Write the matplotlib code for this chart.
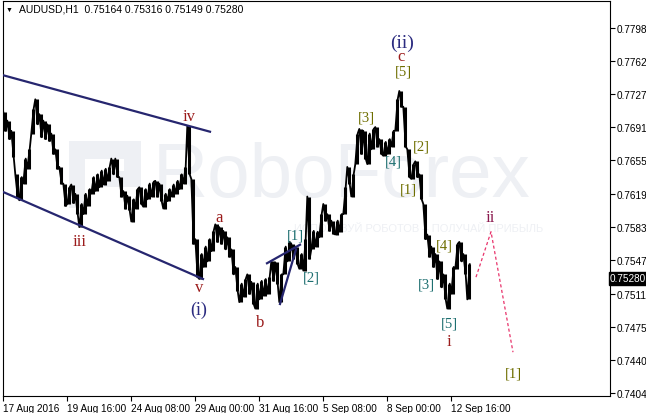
import matplotlib
matplotlib.use("Agg")
import matplotlib.pyplot as plt
import matplotlib.transforms as mtransforms
from matplotlib.patches import Rectangle

# 4-hour groups of the H1 AUDUSD bars (high / low), 17 Aug - 13 Sep 2016
highs = [0.7707, 0.7698, 0.7687, 0.7640, 0.7637, 0.7657, 0.7667, 0.7711, 0.7721, 0.7705,
         0.7698, 0.7694, 0.7684, 0.7667, 0.7648, 0.7630, 0.7626, 0.7629, 0.7619, 0.7608,
         0.7619, 0.7624, 0.7637, 0.7640, 0.7644, 0.7646, 0.7648, 0.7657, 0.7657, 0.7637,
         0.7622, 0.7617, 0.7613, 0.7624, 0.7626, 0.7624, 0.7630, 0.7632, 0.7633, 0.7630,
         0.7619, 0.7624, 0.7629, 0.7633, 0.7640, 0.7648, 0.7692, 0.7635, 0.7570, 0.7554,
         0.7562, 0.7570, 0.7579, 0.7586, 0.7583, 0.7579, 0.7572, 0.7559, 0.7540, 0.7522,
         0.7527, 0.7532, 0.7524, 0.7522, 0.7525, 0.7527, 0.7529, 0.7546, 0.7545, 0.7532,
         0.7562, 0.7567, 0.7565, 0.7562, 0.7554, 0.7570, 0.7616, 0.7579, 0.7578, 0.7597,
         0.7608, 0.7597, 0.7590, 0.7590, 0.7597, 0.7626, 0.7648, 0.7640, 0.7684, 0.7689,
         0.7687, 0.7684, 0.7689, 0.7691, 0.7678, 0.7675, 0.7678, 0.7687, 0.7721, 0.7730,
         0.7713, 0.7667, 0.7651, 0.7654, 0.7640, 0.7608, 0.7575, 0.7562, 0.7554, 0.7546,
         0.7532, 0.7522, 0.7540, 0.7565, 0.7567, 0.7554, 0.7543]
lows = [0.7687, 0.7678, 0.7659, 0.7616, 0.7612, 0.7630, 0.7646, 0.7684, 0.7694, 0.7680,
        0.7678, 0.7676, 0.7662, 0.7646, 0.7630, 0.7606, 0.7608, 0.7609, 0.7597, 0.7583,
        0.7597, 0.7606, 0.7619, 0.7622, 0.7626, 0.7629, 0.7633, 0.7640, 0.7637, 0.7616,
        0.7603, 0.7601, 0.7589, 0.7603, 0.7608, 0.7605, 0.7613, 0.7616, 0.7616, 0.7611,
        0.7603, 0.7611, 0.7616, 0.7619, 0.7624, 0.7630, 0.7640, 0.7565, 0.7529, 0.7527,
        0.7540, 0.7546, 0.7557, 0.7567, 0.7565, 0.7559, 0.7551, 0.7532, 0.7514, 0.7502,
        0.7508, 0.7511, 0.7500, 0.7495, 0.7505, 0.7509, 0.7511, 0.7525, 0.7522, 0.7502,
        0.7532, 0.7546, 0.7549, 0.7543, 0.7538, 0.7536, 0.7549, 0.7559, 0.7562, 0.7572,
        0.7590, 0.7579, 0.7576, 0.7575, 0.7578, 0.7597, 0.7630, 0.7616, 0.7651, 0.7662,
        0.7657, 0.7651, 0.7667, 0.7670, 0.7662, 0.7660, 0.7662, 0.7670, 0.7687, 0.7713,
        0.7670, 0.7637, 0.7635, 0.7637, 0.7613, 0.7570, 0.7551, 0.7540, 0.7527, 0.7518,
        0.7505, 0.7495, 0.7511, 0.7538, 0.7546, 0.7532, 0.7505]
group_hours = 4
last_price = 0.75280
header = "AUDUSD,H1  0.75164 0.75316 0.75149 0.75280"

# price axis (MT4 style, uneven steps)
price_ticks = [0.7798, 0.7762, 0.7727, 0.7691, 0.7655, 0.7619, 0.7583,
               0.7547, 0.7511, 0.7475, 0.7440, 0.7404]
time_ticks = [0, 64, 128, 192, 256, 320, 384, 448]
time_labels = ["17 Aug 2016", "19 Aug 16:00", "24 Aug 08:00", "29 Aug 00:00",
               "31 Aug 16:00", "5 Sep 08:00", "8 Sep 00:00", "12 Sep 16:00"]

# trend lines (bar index, price)
channel_top = [(0, 0.7747), (207, 0.7686)]
channel_bot = [(0, 0.7621), (200, 0.7527)]
wedge_top = [(264, 0.7544), (297, 0.7564)]
wedge_bot = [(277, 0.7500), (293, 0.7559)]
forecast = [(473, 0.7529), (488, 0.7578), (510, 0.7448)]

RED = "#9b1c1c"
NAVY = "#2b2b80"
OLIVE = "#6e6e00"
TEAL = "#1d6f70"
# wave labels: text, bar index, price, colour, size
wave_labels = [
    ("iv", 186, 0.7703, RED, 12), ("iii", 77, 0.7568, RED, 12),
    ("v", 196, 0.7518, RED, 12), ("(i)", 196, 0.7494, NAVY, 13),
    ("a", 216, 0.7594, RED, 12), ("b", 257, 0.7481, RED, 12),
    ("[1]", 292, 0.7574, TEAL, 10.5), ("[2]", 308, 0.7529, TEAL, 10.5),
    ("(ii)", 399, 0.7783, NAVY, 14), ("c", 398, 0.7768, RED, 12),
    ("[5]", 400, 0.7751, OLIVE, 10.5), ("[3]", 363, 0.7702, OLIVE, 10.5),
    ("[4]", 390, 0.7654, TEAL, 10.5), ("[2]", 418, 0.7671, OLIVE, 10.5),
    ("[1]", 405, 0.7624, OLIVE, 10.5), ("[4]", 441, 0.7564, OLIVE, 10.5),
    ("[3]", 423, 0.7522, TEAL, 10.5), ("[5]", 446, 0.7479, TEAL, 10.5),
    ("i", 446, 0.7460, RED, 12), ("ii", 487, 0.7594, "#8b1a4f", 12),
    ("[1]", 510, 0.7426, OLIVE, 10.5),
]

WM = "#eef0f4"

plt.rcParams['font.family'] = ['Liberation Sans', 'DejaVu Sans']

fig = plt.figure(figsize=(6.46, 4.14), dpi=100)
ax = fig.add_axes([3 / 646, 17 / 414, 607 / 646, 395 / 414])
ax.set_xlim(0, 607)
ax.set_ylim(0.74007, 0.78271)

# watermark
ax.text(0.247, 0.555, "RoboForex", transform=ax.transAxes, fontsize=55,
        color=WM, ha="left", va="center", zorder=0)
ax.add_patch(Rectangle((0.108, 0.475), 0.027, 0.17, transform=ax.transAxes,
                       fc=WM, ec="none", zorder=0))
ax.add_patch(Rectangle((0.108, 0.60), 0.12, 0.045, transform=ax.transAxes,
                       fc=WM, ec="none", zorder=0))
ax.add_patch(Rectangle((0.20, 0.53), 0.028, 0.115, transform=ax.transAxes,
                       fc=WM, ec="none", zorder=0))
ax.add_patch(Rectangle((0.16, 0.53), 0.068, 0.04, transform=ax.transAxes,
                       fc=WM, ec="none", zorder=0))
ax.text(0.48, 0.425, "ИСПОЛЬЗУЙ РОБОТОВ \u2013 ПОЛУЧАЙ ПРИБЫЛЬ", transform=ax.transAxes,
        fontsize=8, color=WM, ha="left", va="center", zorder=0)

# price bars
xs = [group_hours * k + 1.5 for k in range(len(highs))]
ax.vlines(xs, lows, highs, color="black", lw=2.2, zorder=3)
px, py = [], []
for k in range(len(highs)):
    mid = (highs[k] + lows[k]) / 2
    nxt = (highs[k + 1] + lows[k + 1]) / 2 if k + 1 < len(highs) else mid
    a, b = (lows[k], highs[k]) if nxt >= mid else (highs[k], lows[k])
    px += [xs[k] - 1.2, xs[k] + 1.2]
    py += [a, b]
ax.plot(px, py, color="black", lw=1.3, zorder=3)

for seg in (channel_top, channel_bot, wedge_top, wedge_bot):
    ax.plot([p[0] for p in seg], [p[1] for p in seg], color="#26266f", lw=1.6, zorder=4)
ax.plot([p[0] for p in forecast], [p[1] for p in forecast], color="#e8336b",
        lw=0.9, dashes=(2.5, 2), zorder=4)

for txt, x, y, c, s in wave_labels:
    ax.text(x, y, txt, color=c, fontsize=s, family="Liberation Serif",
            ha="center", va="center", zorder=5)

# axes styling
for sp in ax.spines.values():
    sp.set_color("black")
    sp.set_linewidth(0.8)
ax.yaxis.tick_right()
ax.set_yticks(price_ticks)
ax.set_yticklabels([f"{p:.5f}" for p in price_ticks])
ax.set_xticks(time_ticks)
ax.set_xticklabels(time_labels, ha="left")
ax.tick_params(axis="both", direction="out", length=3.5, width=0.8,
               labelsize=7.2, colors="black", pad=1.5)

# last price marker
trans = mtransforms.blended_transform_factory(ax.transAxes, ax.transData)
ax.text(1.0, last_price, f"{last_price:.5f}", transform=trans, fontsize=7.2,
        color="white", ha="left", va="center", zorder=6, clip_on=False,
        bbox=dict(boxstyle="square,pad=0.15", fc="black", ec="black"))

fig.text(6 / 646, 1 - 10 / 414, "\u25bc", fontsize=5, ha="left", va="center")
fig.text(19 / 646, 1 - 10 / 414, header, fontsize=7.5, ha="left", va="center")

fig.savefig("out.png", dpi=100)
